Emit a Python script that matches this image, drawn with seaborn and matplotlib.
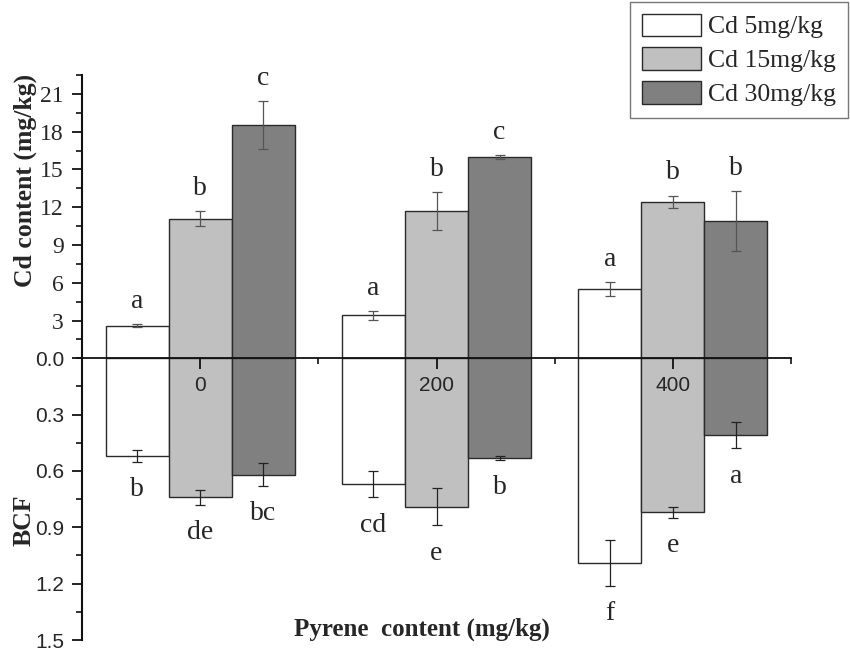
import matplotlib
matplotlib.use("Agg")
import matplotlib.pyplot as plt
from matplotlib.ticker import MultipleLocator, FixedLocator
import seaborn as sns
import pandas as pd

# ---- data ----
pyrene = ["0", "200", "400"]
cd_levels = ["Cd 5mg/kg", "Cd 15mg/kg", "Cd 30mg/kg"]

cd_5 = [2.6, 3.4, 5.5]
cd_15 = [11.1, 11.7, 12.4]
cd_30 = [18.5, 16.0, 10.9]
cd_5_err = [0.1, 0.35, 0.55]
cd_15_err = [0.6, 1.5, 0.5]
cd_30_err = [1.9, 0.15, 2.35]

bcf_5 = [0.52, 0.67, 1.09]
bcf_15 = [0.74, 0.79, 0.82]
bcf_30 = [0.62, 0.53, 0.41]
bcf_5_err = [0.03, 0.07, 0.12]
bcf_15_err = [0.04, 0.10, 0.03]
bcf_30_err = [0.06, 0.01, 0.07]

cd_letters = [["a", "a", "a"], ["b", "b", "b"], ["c", "c", "b"]]
bcf_letters = [["b", "cd", "f"], ["de", "e", "e"], ["bc", "b", "a"]]

upper_ticks = [3, 6, 9, 12, 15, 18, 21]
lower_ticks = [0.0, 0.3, 0.6, 0.9, 1.2, 1.5]

colors = ["#ffffff", "#c0c0c0", "#808080"]

cd_vals = [cd_5, cd_15, cd_30]
cd_errs = [cd_5_err, cd_15_err, cd_30_err]
bcf_vals = [bcf_5, bcf_15, bcf_30]
bcf_errs = [bcf_5_err, bcf_15_err, bcf_30_err]

rows = []
for i, lev in enumerate(cd_levels):
    for j, p in enumerate(pyrene):
        rows.append({"pyrene": p, "treat": lev, "cd": cd_vals[i][j], "bcf": bcf_vals[i][j]})
df = pd.DataFrame(rows)

# ---- figure ----
sns.set_style("ticks")
plt.rcParams["font.family"] = ["Liberation Serif", "DejaVu Serif"]

W, H = 850, 657
fig = plt.figure(figsize=(W / 100, H / 100), dpi=100)
left = 82 / W
right = 791 / W
mid = 1 - 358.3 / H
top = 1 - 75 / H
bot = 1 - 640 / H
ax_t = fig.add_axes([left, mid, right - left, top - mid])
ax_b = fig.add_axes([left, bot, right - left, mid - bot])
ax_t.set_zorder(3)
ax_t.patch.set_alpha(0)

pal = dict(zip(cd_levels, colors))
edge = "#2a2a2a"
for ax, col in [(ax_t, "cd"), (ax_b, "bcf")]:
    sns.barplot(data=df, x="pyrene", y=col, hue="treat", order=pyrene,
                hue_order=cd_levels, palette=pal, saturation=1,
                edgecolor=edge, linewidth=1.0, errorbar=None, ax=ax,
                width=0.8, legend=False)
    ax.set_xlim(-0.5, 2.5)
    ax.set_xlabel("")
    ax.set_ylabel("")

ax_t.set_ylim(0, 22.5)
ax_b.set_ylim(1.5, 0)

# error bars and letters
for i in range(3):
    cont_t = ax_t.containers[i]
    cont_b = ax_b.containers[i]
    xs_t = [r.get_x() + r.get_width() / 2 for r in cont_t]
    xs_b = [r.get_x() + r.get_width() / 2 for r in cont_b]
    ax_t.errorbar(xs_t, cd_vals[i], yerr=cd_errs[i], fmt="none", ecolor="#555555",
                  elinewidth=0.9, capsize=3.6, capthick=0.9, zorder=5)
    ax_b.errorbar(xs_b, bcf_vals[i], yerr=bcf_errs[i], fmt="none", ecolor="#222222",
                  elinewidth=0.9, capsize=3.6, capthick=0.9, zorder=5)
    for j in range(3):
        ax_t.annotate(cd_letters[i][j], (xs_t[j], cd_vals[i][j] + cd_errs[i][j]),
                      xytext=(0, 16.5), textcoords="offset points", ha="center",
                      va="center", fontsize=20, annotation_clip=False)
        ax_b.annotate(bcf_letters[i][j], (xs_b[j], bcf_vals[i][j] + bcf_errs[i][j]),
                      xytext=(0, -20), textcoords="offset points", ha="center",
                      va="center", fontsize=20, annotation_clip=False)

# spines
for s in ["top", "right"]:
    ax_t.spines[s].set_visible(False)
for s in ["top", "right", "bottom"]:
    ax_b.spines[s].set_visible(False)
ax_t.spines["left"].set_linewidth(1.5)
ax_b.spines["left"].set_linewidth(1.5)
ax_t.spines["bottom"].set_linewidth(1.3)
for s in ax_t.spines.values():
    s.set_color("#111111")
for s in ax_b.spines.values():
    s.set_color("#111111")

# x ticks on zero line
ax_t.xaxis.set_major_locator(FixedLocator([0, 1, 2]))
ax_t.set_xticklabels(pyrene, family="Liberation Sans", fontsize=15)
ax_t.xaxis.set_minor_locator(FixedLocator([0.5, 1.5, 2.5]))
ax_t.tick_params(axis="x", which="major", direction="out", length=8, width=1.3, pad=5, color="#111111")
ax_t.tick_params(axis="x", which="minor", direction="out", length=4, width=1.2, color="#111111")
ax_b.set_xticks([])

# y ticks
ax_t.yaxis.set_major_locator(FixedLocator(upper_ticks))
ax_t.set_yticklabels([str(v) for v in upper_ticks], family="Liberation Serif", fontsize=17)
ax_t.yaxis.set_minor_locator(MultipleLocator(1.5))
ax_b.yaxis.set_major_locator(FixedLocator(lower_ticks))
ax_b.set_yticklabels([f"{v:.1f}" for v in lower_ticks], family="Liberation Sans", fontsize=15)
ax_b.yaxis.set_minor_locator(FixedLocator([0.15, 0.45, 0.75, 1.05, 1.35]))
for ax in (ax_t, ax_b):
    ax.tick_params(axis="y", which="major", direction="out", length=7, width=1.3, pad=6, color="#111111")
    ax.tick_params(axis="y", which="minor", direction="out", length=4, width=1.2, color="#111111")

# axis titles
fig.text(25 / W, 1 - 180 / H, "Cd content (mg/kg)", rotation=90, ha="center", va="center",
         fontsize=18.5, fontweight="bold")
fig.text(24 / W, 1 - 520 / H, "BCF", rotation=90, ha="center", va="center",
         fontsize=18.5, fontweight="bold")
fig.text(422 / W, 1 - 629 / H, "Pyrene  content (mg/kg)", ha="center", va="center",
         fontsize=18, fontweight="bold")

# legend
handles = [c.patches[0] for c in ax_t.containers[:3]]
leg = fig.legend(handles, cd_levels, loc="upper right",
                 bbox_to_anchor=(848 / W, 1 - 2 / H), frameon=True, fancybox=False,
                 edgecolor="#777777", framealpha=1, prop={"family": "Liberation Serif", "size": 18.5},
                 handlelength=2.3, handleheight=0.95, labelspacing=0.35, handletextpad=0.3,
                 borderpad=0.45, borderaxespad=0)
leg.get_frame().set_linewidth(1.0)

fig.savefig("out.png", dpi=100)
